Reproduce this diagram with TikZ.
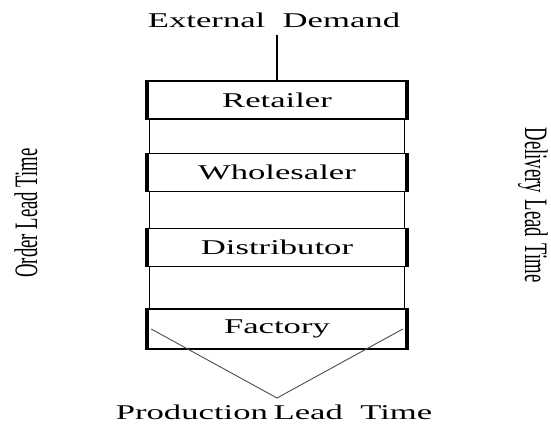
\documentclass[tikz,border=0pt]{standalone}
\usepackage{fontspec}
\setmainfont{Liberation Serif}
\usetikzlibrary{positioning}
\newcommand{\wide}[1]{\scalebox{1.65}[1]{#1}}
\tikzstyle{stage} = [rectangle, minimum width=258pt, minimum height=38pt, inner sep=0pt, text centered, draw=black, line width=1.6pt]
\tikzstyle{label} = [inner sep=1pt]
\tikzstyle{upright} = [inner sep=1pt, font=\fontsize{18.7}{22}\selectfont]
\tikzstyle{link} = [line width=1.2pt]
\tikzstyle{side} = [line width=4.5pt]

\begin{document}
\begin{tikzpicture}[x=1pt, y=-1pt, every node/.style={font=\fontsize{21}{24}\selectfont}]
\useasboundingbox (0,0) rectangle (551,425);

\node (retailer) [stage] at (277,100) {\wide{Retailer}};
\node (wholesaler) [stage] at (277,172.5) {\wide{Wholesaler}};
\node (distributor) [stage] at (277,247.5) {\wide{Distributor}};
\node (factory) [stage, minimum height=40pt] at (277,329) {\wide{Factory}};

\node (demand) [label] at (274,20) {\wide{External\ \ Demand}};
\node (production) [label] at (274,412) {\wide{Production\,Lead\ \ Time}};
\node (order) [upright] at (26,213) {\scalebox{1.75}[1]{\rotatebox{90}{Order Lead Time}}};
\node (delivery) [upright] at (533,205) {\scalebox{1.75}[1]{\rotatebox{-90}{Delivery\hspace{0.35em}Lead\hspace{0.35em}Time}}};
\coordinate (apex) at (277,398);

% thick sides of the boxes
\foreach \n in {retailer, wholesaler, distributor, factory}
  {
  \draw [side] (\n.north west) -- (\n.south west);
  \draw [side] (\n.north east) -- (\n.south east);
  }

% frame between the boxes
\foreach \a/\b in {retailer/wholesaler, wholesaler/distributor, distributor/factory}
  {
  \draw [link] ([xshift=2pt]\a.south west) -- ([xshift=2pt]\b.north west);
  \draw [link] ([xshift=-2pt]\a.south east) -- ([xshift=-2pt]\b.north east);
  }

\draw [link] ([yshift=-6pt]demand.south -| retailer.north) -- (retailer.north);
\draw [line width=0.9pt, black!70] ([xshift=4pt]factory.west) -- (apex) -- ([xshift=-4pt]factory.east);

\end{tikzpicture}
\end{document}
